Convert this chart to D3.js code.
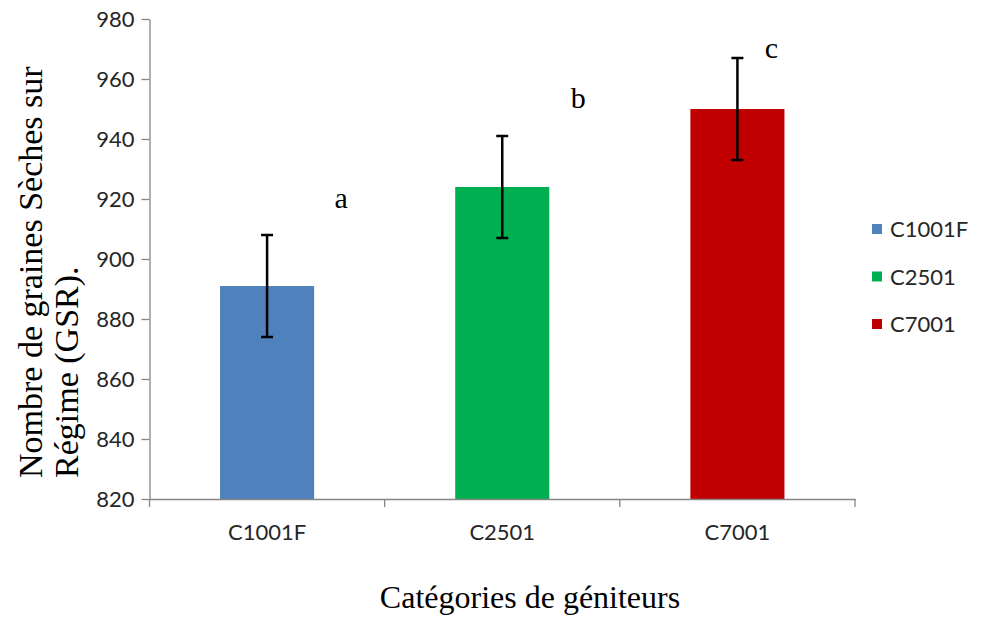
<!DOCTYPE html>
<html><head><meta charset="utf-8">
<script src="https://cdn.jsdelivr.net/npm/d3@7"></script>
<style>body{margin:0;background:#fff}svg{display:block}</style>
</head><body>
<svg id="chart" width="1004" height="617"></svg>
<script>
const categories = ["C1001F", "C2501", "C7001"];
const values = [891, 924, 950];
const errors = [17, 17, 17];
const letters = ["a", "b", "c"];
const colors = ["#4F81BD", "#00B050", "#C00000"];
const yTicks = [820, 840, 860, 880, 900, 920, 940, 960, 980];

const svg = d3.select("#chart");
const mLeft = 149.5, mRight = 855, mTop = 19, mBottom = 499;
const x = d3.scaleBand().domain(categories).range([mLeft, mRight]).paddingInner(0.6).paddingOuter(0.3);
const y = d3.scaleLinear().domain([820, 980]).range([mBottom, mTop]);
const band = (mRight - mLeft) / categories.length;
const sansFont = "Lato, 'Open Sans', sans-serif";
const serifFont = "'Liberation Serif', 'Times New Roman', serif";

// bars
svg.selectAll("rect.bar").data(categories).enter().append("rect")
  .attr("x", d => x(d)).attr("width", x.bandwidth())
  .attr("y", (d, i) => y(values[i])).attr("height", (d, i) => y(820) - y(values[i]))
  .attr("fill", (d, i) => colors[i]);

// y axis
const yAxis = svg.append("g").attr("transform", `translate(${mLeft},0)`)
  .call(d3.axisLeft(y).tickValues(yTicks).tickSize(8).tickPadding(7).tickSizeOuter(0));
yAxis.select(".domain").attr("stroke", "#868686").attr("stroke-width", 1.3);
yAxis.selectAll(".tick line").attr("stroke", "#868686").attr("stroke-width", 1.3);
yAxis.selectAll("text").attr("font-family", sansFont).attr("font-size", 22).attr("fill", "#262626");

// x axis
const xAxis = svg.append("g").attr("transform", `translate(0,${mBottom})`)
  .call(d3.axisBottom(x).tickSize(0).tickPadding(25));
xAxis.select(".domain").attr("stroke", "#868686").attr("stroke-width", 1.3);
xAxis.selectAll("text").attr("font-family", sansFont).attr("font-size", 22).attr("fill", "#262626");
const sepTicks = d3.range(categories.length + 1).map(i => mLeft + i * band);
xAxis.selectAll("line.sep").data(sepTicks).enter().append("line")
  .attr("x1", d => d).attr("x2", d => d).attr("y1", 0).attr("y2", 8)
  .attr("stroke", "#868686").attr("stroke-width", 1.3);

// error bars
const eb = svg.append("g");
categories.forEach((c, i) => {
  const cx = x(c) + x.bandwidth() / 2;
  const y1 = y(values[i] + errors[i]), y2 = y(values[i] - errors[i]);
  eb.append("line").attr("x1", cx).attr("x2", cx).attr("y1", y1).attr("y2", y2).attr("stroke", "#000").attr("stroke-width", 2.5);
  [y1, y2].forEach(yy => eb.append("line").attr("x1", cx - 6).attr("x2", cx + 6).attr("y1", yy).attr("y2", yy).attr("stroke", "#000").attr("stroke-width", 2.5));
});

// letters (offsets from bar centre / error-bar top)
const letterDx = [74, 76, 34];
const letterDy = [-27, -28, 0];
svg.selectAll("text.letter").data(letters).enter().append("text")
  .attr("x", (d, i) => x(categories[i]) + x.bandwidth() / 2 + letterDx[i])
  .attr("y", (d, i) => y(values[i] + errors[i]) + letterDy[i])
  .attr("text-anchor", "middle").attr("font-family", serifFont).attr("font-size", 30).attr("fill", "#000")
  .text(d => d);

// legend
const lg = svg.append("g").attr("transform", "translate(872,229)");
categories.forEach((c, i) => {
  lg.append("rect").attr("x", 0).attr("y", i * 47.5 - 5).attr("width", 10).attr("height", 10).attr("fill", colors[i]);
  lg.append("text").attr("x", 18).attr("y", i * 47.5 + 8).attr("font-family", sansFont).attr("font-size", 22).attr("fill", "#262626").text(c);
});

// axis titles
svg.append("text").attr("x", 530).attr("y", 608).attr("text-anchor", "middle")
  .attr("font-family", serifFont).attr("font-size", 32).attr("fill", "#000").text("Catégories de géniteurs");
const yt = svg.append("g").attr("transform", "translate(0,478) rotate(-90)");
yt.append("text").attr("x", 0).attr("y", 42).attr("font-family", serifFont).attr("font-size", 34).attr("fill", "#000").text("Nombre de graines Sèches sur");
yt.append("text").attr("x", 0).attr("y", 78).attr("font-family", serifFont).attr("font-size", 34).attr("fill", "#000").text("Régime (GSR).");
</script>
</body></html>
